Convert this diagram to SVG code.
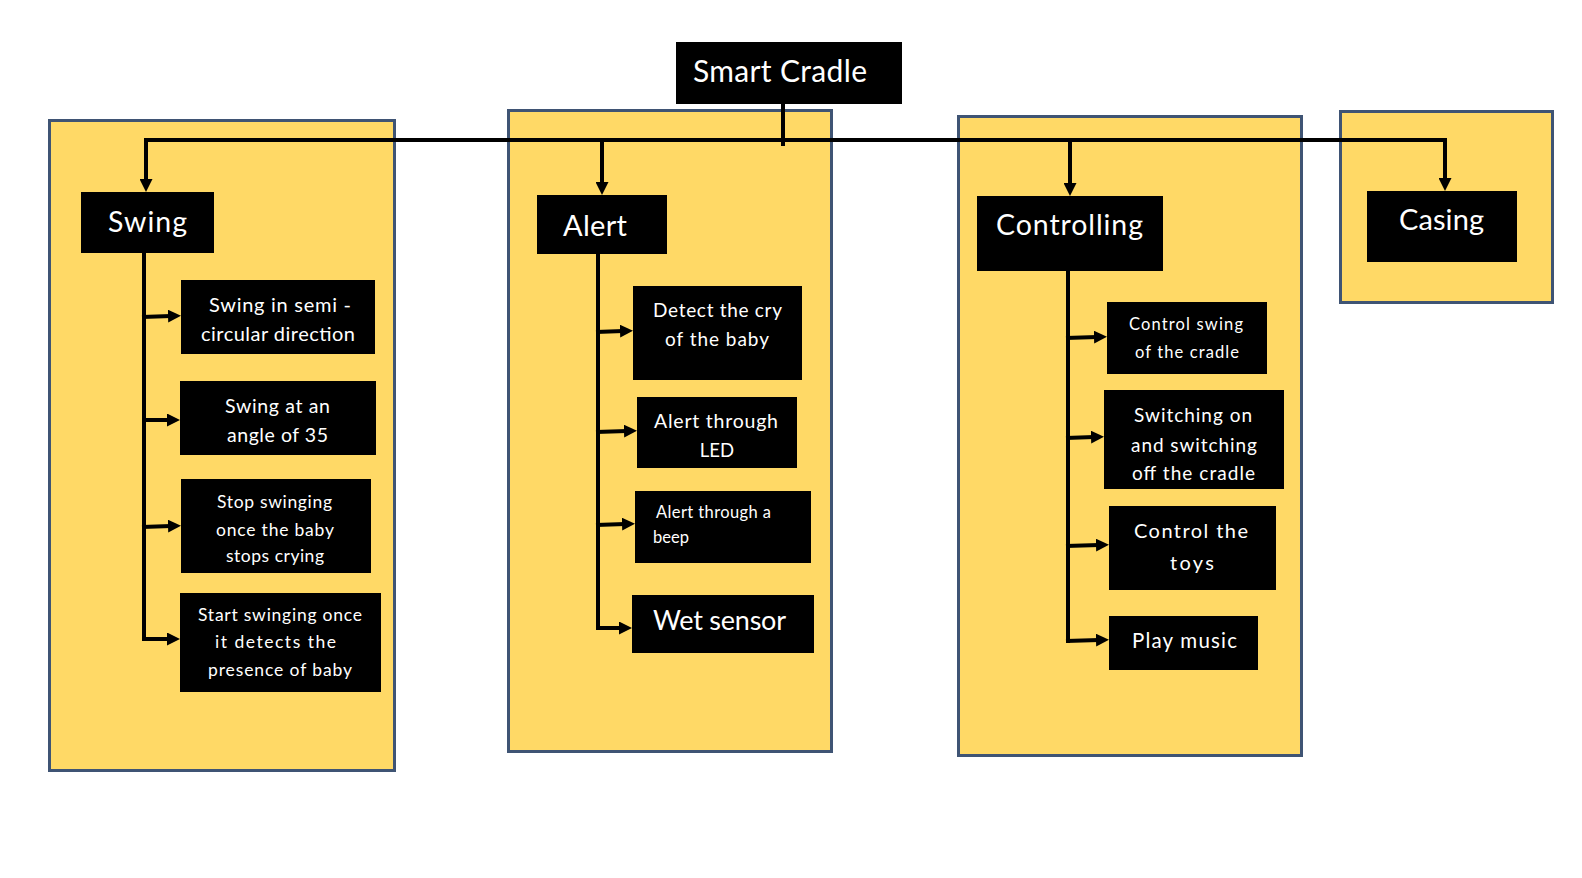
<svg xmlns="http://www.w3.org/2000/svg" width="1582" height="878" viewBox="0 0 1582 878">
  <style>
    .panel { fill: #FFD966; stroke: #3F5474; stroke-width: 3; }
    .box { fill: #000000; }
    .t { font-family: Lato, "Open Sans", "Liberation Sans", sans-serif; fill: #FFFFFF; text-anchor: middle; }
    .ts { font-family: Lato, "Open Sans", "Liberation Sans", sans-serif; fill: #FFFFFF; text-anchor: start; }
    .c { stroke: #000000; stroke-width: 4; fill: none; }
    .cb { stroke: #000000; stroke-width: 4; fill: none; marker-end: url(#ah); }
  </style>
  <defs>
    <marker id="ah" viewBox="0 0 13 13" markerWidth="13" markerHeight="13" markerUnits="userSpaceOnUse" refX="3" refY="6.5" orient="auto">
      <path d="M0,0 L13,6.5 L0,13 Z" fill="#000000"/>
    </marker>
  </defs>
  <rect width="1582" height="878" fill="#FFFFFF"/>

  <g id="panel-swing"><rect class="panel" x="49.5" y="120.5" width="345" height="650"/></g>
  <g id="panel-alert"><rect class="panel" x="508.5" y="110.5" width="323" height="641"/></g>
  <g id="panel-controlling"><rect class="panel" x="958.5" y="116.5" width="343" height="639"/></g>
  <g id="panel-casing"><rect class="panel" x="1340.5" y="111.5" width="212" height="191"/></g>

  <g id="connectors">
    <line class="c" x1="783" y1="103" x2="783" y2="146"/>
    <line class="c" x1="144" y1="140" x2="1447" y2="140"/>
    <line class="cb" x1="146" y1="138" x2="146" y2="182"/>
    <line class="cb" x1="602" y1="140" x2="602" y2="185"/>
    <line class="cb" x1="1070" y1="140" x2="1070" y2="186"/>
    <line class="cb" x1="1445" y1="138" x2="1445" y2="181"/>

    <line class="c" x1="144" y1="252" x2="144" y2="641"/>
    <line class="cb" x1="142" y1="317" x2="171" y2="316"/>
    <line class="cb" x1="142" y1="420" x2="170" y2="420"/>
    <line class="cb" x1="142" y1="527" x2="171" y2="526"/>
    <line class="cb" x1="142" y1="639" x2="170" y2="639"/>

    <line class="c" x1="598" y1="253" x2="598" y2="630"/>
    <line class="cb" x1="596" y1="332" x2="623" y2="331"/>
    <line class="cb" x1="596" y1="432" x2="627" y2="431"/>
    <line class="cb" x1="596" y1="525" x2="625" y2="524"/>
    <line class="cb" x1="596" y1="628" x2="622" y2="628"/>

    <line class="c" x1="1068" y1="270" x2="1068" y2="643"/>
    <line class="cb" x1="1066" y1="338" x2="1097" y2="337"/>
    <line class="cb" x1="1066" y1="438" x2="1094" y2="437"/>
    <line class="cb" x1="1066" y1="546" x2="1099" y2="545"/>
    <line class="cb" x1="1066" y1="641" x2="1099" y2="640"/>
  </g>

  <g id="smart-cradle">
    <rect class="box" x="676" y="42" width="226" height="62"/>
    <text class="t" x="780" y="82" font-size="30" textLength="174">Smart Cradle</text>
  </g>

  <g id="swing">
    <rect class="box" x="81" y="192" width="133" height="61"/>
    <text class="t" x="147.5" y="232" font-size="28.5" textLength="79">Swing</text>
  </g>
  <g id="swing-semi">
    <rect class="box" x="181" y="280" width="194" height="74"/>
    <text class="t" x="280" y="312" font-size="20" textLength="142">Swing in semi -</text>
    <text class="t" x="278" y="341" font-size="20" textLength="154">circular direction</text>
  </g>
  <g id="swing-angle">
    <rect class="box" x="180" y="381" width="196" height="74"/>
    <text class="t" x="277.5" y="413" font-size="19.5" textLength="105">Swing at an</text>
    <text class="t" x="277.5" y="442" font-size="19.5" textLength="101">angle of 35</text>
  </g>
  <g id="swing-stop">
    <rect class="box" x="181" y="479" width="190" height="94"/>
    <text class="t" x="274.5" y="508" font-size="17.5" textLength="115">Stop swinging</text>
    <text class="t" x="275" y="536" font-size="17.5" textLength="118">once the baby</text>
    <text class="t" x="275" y="562" font-size="17.5" textLength="98">stops crying</text>
  </g>
  <g id="swing-start">
    <rect class="box" x="180" y="593" width="201" height="99"/>
    <text class="t" x="280" y="621" font-size="17.5" textLength="164">Start swinging once</text>
    <text class="t" x="275.5" y="648" font-size="17.5" textLength="121">it detects the</text>
    <text class="t" x="280" y="676" font-size="17.5" textLength="144">presence of baby</text>
  </g>

  <g id="alert">
    <rect class="box" x="537" y="195" width="130" height="59"/>
    <text class="t" x="595" y="236" font-size="29" textLength="64">Alert</text>
  </g>
  <g id="alert-detect">
    <rect class="box" x="633" y="286" width="169" height="94"/>
    <text class="t" x="717.5" y="317" font-size="19" textLength="129">Detect the cry</text>
    <text class="t" x="717" y="346" font-size="19" textLength="104">of the baby</text>
  </g>
  <g id="alert-led">
    <rect class="box" x="637" y="397" width="160" height="71"/>
    <text class="t" x="716" y="428" font-size="19.5" textLength="124">Alert through</text>
    <text class="t" x="717" y="457" font-size="18.5">LED</text>
  </g>
  <g id="alert-beep">
    <rect class="box" x="635" y="491" width="176" height="72"/>
    <text class="ts" x="656" y="518" font-size="16.5" textLength="115">Alert through a</text>
    <text class="ts" x="653" y="543" font-size="16.5">beep</text>
  </g>
  <g id="alert-wet">
    <rect class="box" x="632" y="595" width="182" height="58"/>
    <text class="t" x="719.5" y="630" font-size="27" textLength="133">Wet sensor</text>
  </g>

  <g id="controlling">
    <rect class="box" x="977" y="196" width="186" height="75"/>
    <text class="t" x="1069.5" y="235" font-size="28.5" textLength="147">Controlling</text>
  </g>
  <g id="ctrl-swing">
    <rect class="box" x="1107" y="302" width="160" height="72"/>
    <text class="t" x="1186" y="330" font-size="16.5" textLength="114">Control swing</text>
    <text class="t" x="1187" y="358" font-size="16.5" textLength="104">of the cradle</text>
  </g>
  <g id="ctrl-switch">
    <rect class="box" x="1104" y="390" width="180" height="99"/>
    <text class="t" x="1193" y="422" font-size="19" textLength="118">Switching on</text>
    <text class="t" x="1194" y="452" font-size="19" textLength="126">and switching</text>
    <text class="t" x="1193.5" y="480" font-size="19" textLength="123">off the cradle</text>
  </g>
  <g id="ctrl-toys">
    <rect class="box" x="1109" y="506" width="167" height="84"/>
    <text class="t" x="1191" y="538" font-size="20" textLength="114">Control the</text>
    <text class="t" x="1192" y="570" font-size="20" textLength="44">toys</text>
  </g>
  <g id="ctrl-music">
    <rect class="box" x="1109" y="616" width="149" height="54"/>
    <text class="t" x="1184.5" y="648" font-size="20.5" textLength="105">Play music</text>
  </g>

  <g id="casing">
    <rect class="box" x="1367" y="191" width="150" height="71"/>
    <text class="t" x="1441.5" y="230" font-size="29" textLength="85">Casing</text>
  </g>
</svg>
